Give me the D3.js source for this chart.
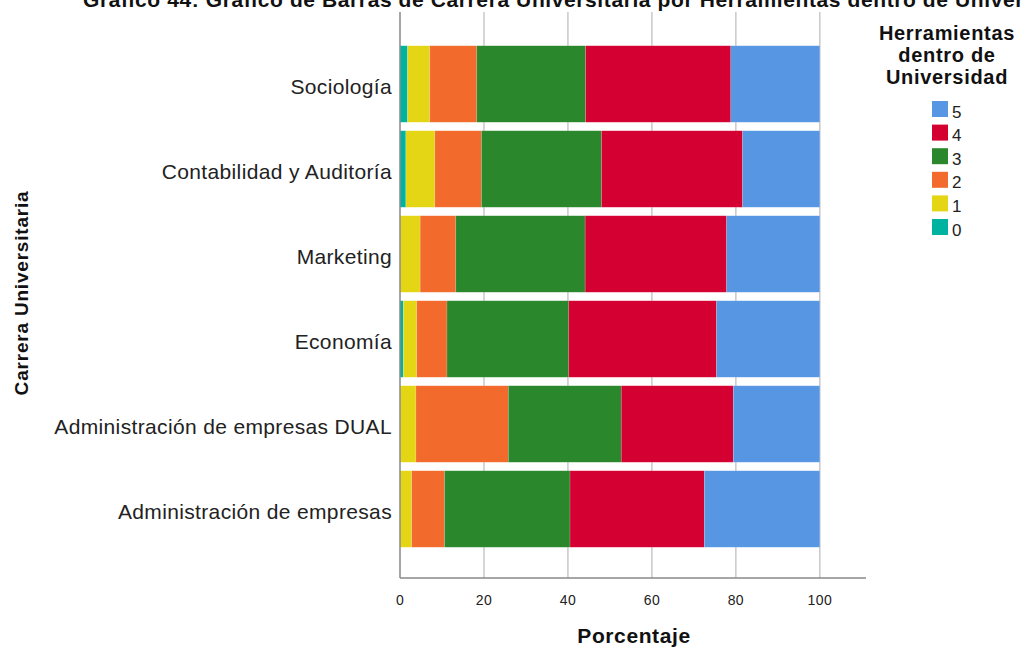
<!DOCTYPE html>
<html><head><meta charset="utf-8">
<script src="https://cdn.jsdelivr.net/npm/d3@7"></script>
<style>body{margin:0;background:#fff;} text{font-family:"Liberation Sans",Arial,sans-serif;}</style>
</head><body>
<svg id="c" width="1021" height="648"></svg>
<script>
const categories = ["Sociología","Contabilidad y Auditoría","Marketing","Economía","Administración de empresas DUAL","Administración de empresas"];
const seriesKeys = ["0","1","2","3","4","5"];
const v0 = [1.8, 1.4, 0.0, 0.8, 0.0, 0.0];
const v1 = [5.3, 6.9, 4.8, 3.2, 3.8, 2.8];
const v2 = [11.2, 11.1, 8.5, 7.2, 22.0, 7.8];
const v3 = [25.9, 28.6, 30.8, 29.0, 26.9, 29.9];
const v4 = [34.6, 33.6, 33.7, 35.2, 26.7, 32.0];
const v5 = [21.2, 18.4, 22.2, 24.6, 20.6, 27.5];
const xTicks = [0, 20, 40, 60, 80, 100];
const colors = ["#00b2a0","#e4d614","#f26b2c","#2a872b","#d50032","#5796e2"];

const table = categories.map((c,i)=>({cat:c,"0":v0[i],"1":v1[i],"2":v2[i],"3":v3[i],"4":v4[i],"5":v5[i]}));
const stack = d3.stack().keys(seriesKeys)(table);

const svg = d3.select("#c");
const x = d3.scaleLinear().domain([0,111]).range([400,866]);
const y = d3.scaleBand().domain(categories).range([41.5,551.5]).paddingInner(0.1).paddingOuter(0.05);
const color = d3.scaleOrdinal().domain(seriesKeys).range(colors);
const plotTop = 12, plotBottom = 578;

// gridlines
svg.append("g").selectAll("line").data(xTicks.slice(1)).join("line")
  .attr("x1",d=>x(d)).attr("x2",d=>x(d)).attr("y1",plotTop).attr("y2",plotBottom)
  .attr("stroke","#c8c8c8").attr("stroke-width",1.5);

// bars
svg.append("g").selectAll("g").data(stack).join("g")
  .attr("fill",d=>color(d.key))
  .selectAll("rect").data(d=>d).join("rect")
  .attr("x",d=>x(d[0])).attr("width",d=>Math.max(0,x(d[1])-x(d[0])))
  .attr("y",d=>y(d.data.cat)).attr("height",y.bandwidth())
  .attr("stroke","rgba(255,255,255,0.25)").attr("stroke-width",0.6);

// axes lines
svg.append("line").attr("x1",400).attr("x2",400).attr("y1",plotTop).attr("y2",plotBottom).attr("stroke","#888").attr("stroke-width",1.5);
svg.append("line").attr("x1",400).attr("x2",866).attr("y1",plotBottom).attr("y2",plotBottom).attr("stroke","#888").attr("stroke-width",1.5);

// x tick labels
svg.append("g").selectAll("text").data(xTicks).join("text")
  .attr("x",d=>x(d)).attr("y",605).attr("text-anchor","middle")
  .attr("font-size",14).attr("letter-spacing",0.4).attr("fill","#222").text(d=>d);

// category labels
svg.append("g").selectAll("text").data(categories).join("text")
  .attr("x",392).attr("y",d=>y(d)+y.bandwidth()/2+9.5).attr("text-anchor","end")
  .attr("font-size",21).attr("letter-spacing",0.35).attr("fill","#222").text(d=>d);

// axis titles
svg.append("text").attr("x",634).attr("y",643).attr("text-anchor","middle")
  .attr("font-size",21).attr("letter-spacing",0.6).attr("font-weight","bold").attr("fill","#111").text("Porcentaje");
svg.append("text").attr("transform","translate(28,293) rotate(-90)").attr("text-anchor","middle")
  .attr("font-size",19).attr("letter-spacing",0.8).attr("font-weight","bold").attr("fill","#111").text("Carrera Universitaria");

// title (clipped at top/right like the reference)
svg.append("text").attr("x",83).attr("y",7).attr("font-size",21).attr("letter-spacing",0.6).attr("font-weight","bold").attr("fill","#111")
  .text("Gráfico 44: Gráfico de Barras de Carrera Universitaria por Herramientas dentro de Universidad");

// legend
const lg = svg.append("g");
[["Herramientas",40],["dentro de",62],["Universidad",84]].forEach(([t,yy])=>{
  lg.append("text").attr("x",947).attr("y",yy).attr("text-anchor","middle")
    .attr("font-size",20).attr("letter-spacing",0.7).attr("font-weight","bold").attr("fill","#111").text(t);
});
const legKeys = seriesKeys.slice().reverse();
const li = lg.selectAll("g.item").data(legKeys).join("g").attr("class","item")
  .attr("transform",(d,i)=>`translate(932,${101+i*23.6})`);
li.append("rect").attr("width",16).attr("height",16).attr("fill",d=>color(d));
li.append("text").attr("x",20).attr("y",16.5).attr("font-size",17).attr("fill","#222").text(d=>d);
</script>
</body></html>
